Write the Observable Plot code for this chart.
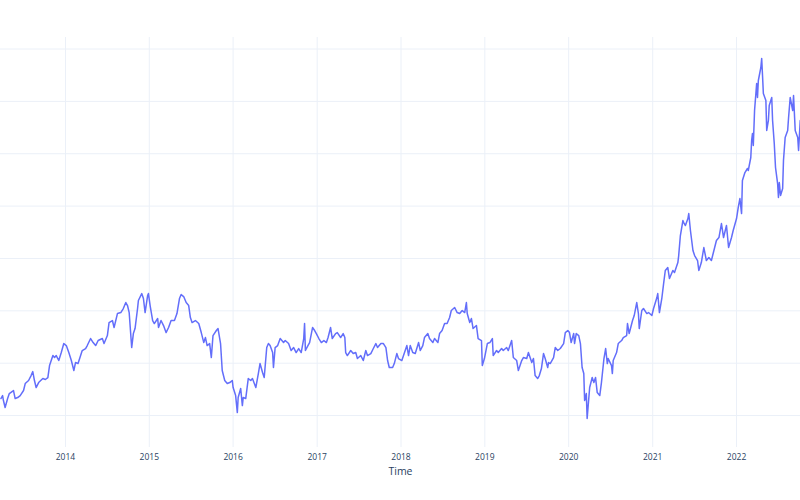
<!DOCTYPE html>
<html>
<head>
<meta charset="utf-8">
<script src="https://cdn.jsdelivr.net/npm/d3@7"></script>
<script src="https://cdn.jsdelivr.net/npm/@observablehq/plot@0.6"></script>
<style>
  html, body { margin: 0; padding: 0; background: #fff; }
  #chart { width: 800px; height: 500px; }
</style>
</head>
<body>
<div id="chart"></div>
<script>
// Time as decimal years (arbitrary units, y labels are not visible)
const times = [
2013.23,2013.25,2013.26,2013.28,2013.31,2013.33,2013.38,2013.40,2013.43,2013.46,2013.50,2013.52,2013.56,2013.59,2013.61,2013.63,2013.65,2013.68,2013.73,2013.76,
2013.79,2013.81,2013.85,2013.87,2013.89,2013.92,2013.95,2013.98,2014.01,2014.04,2014.07,2014.10,2014.12,2014.15,2014.20,2014.24,2014.26,2014.30,2014.33,2014.36,
2014.39,2014.44,2014.46,2014.50,2014.52,2014.56,2014.58,2014.62,2014.66,2014.69,2014.72,2014.74,2014.76,2014.79,2014.81,2014.83,2014.86,2014.87,2014.91,2014.93,
2014.95,2014.98,2014.99,2015.01,2015.04,2015.06,2015.10,2015.11,2015.14,2015.17,2015.20,2015.23,2015.26,2015.30,2015.33,2015.36,2015.38,2015.41,2015.44,2015.47,
2015.49,2015.51,2015.55,2015.59,2015.62,2015.65,2015.67,2015.69,2015.72,2015.74,2015.76,2015.80,2015.82,2015.85,2015.87,2015.90,2015.93,2015.96,2015.99,2016.00,
2016.03,2016.05,2016.06,2016.09,2016.11,2016.12,2016.15,2016.18,2016.21,2016.23,2016.27,2016.30,2016.32,2016.35,2016.37,2016.40,2016.42,2016.44,2016.47,2016.48,
2016.50,2016.53,2016.56,2016.60,2016.62,2016.66,2016.69,2016.72,2016.75,2016.78,2016.81,2016.84,2016.85,2016.86,2016.89,2016.91,2016.945,2016.97,2016.99,2017.02,
2017.05,2017.08,2017.11,2017.13,2017.16,2017.18,2017.22,2017.24,2017.28,2017.31,2017.33,2017.34,2017.36,2017.40,2017.43,2017.46,2017.48,2017.52,2017.55,2017.58,
2017.60,2017.64,2017.67,2017.70,2017.72,2017.76,2017.79,2017.82,2017.84,2017.86,2017.90,2017.92,2017.95,2017.97,2018.01,2018.03,2018.07,2018.09,2018.11,2018.14,
2018.17,2018.21,2018.23,2018.26,2018.28,2018.32,2018.34,2018.38,2018.40,2018.44,2018.46,2018.49,2018.52,2018.55,2018.58,2018.60,2018.64,2018.67,2018.70,2018.73,
2018.76,2018.78,2018.79,2018.82,2018.84,2018.86,2018.90,2018.92,2018.96,2018.97,2018.995,2019.03,2019.06,2019.09,2019.10,2019.14,2019.16,2019.20,2019.22,2019.26,
2019.28,2019.32,2019.34,2019.38,2019.40,2019.44,2019.46,2019.50,2019.52,2019.56,2019.58,2019.60,2019.63,2019.65,2019.675,2019.70,2019.72,2019.75,2019.76,2019.78,
2019.82,2019.84,2019.87,2019.90,2019.94,2019.96,2019.99,2020.01,2020.03,2020.06,2020.07,2020.09,2020.12,2020.14,2020.16,2020.18,2020.19,2020.21,2020.22,2020.25,
2020.28,2020.30,2020.32,2020.34,2020.37,2020.39,2020.42,2020.44,2020.46,2020.47,2020.51,2020.52,2020.53,2020.57,2020.59,2020.63,2020.65,2020.69,2020.70,2020.72,
2020.76,2020.78,2020.81,2020.83,2020.84,2020.87,2020.89,2020.93,2020.95,2020.99,2021.01,2021.05,2021.06,2021.08,2021.11,2021.13,2021.15,2021.18,2021.20,2021.24,
2021.26,2021.30,2021.31,2021.33,2021.36,2021.37,2021.39,2021.42,2021.43,2021.45,2021.48,2021.50,2021.535,2021.55,2021.58,2021.61,2021.64,2021.67,2021.70,2021.73,
2021.76,2021.79,2021.82,2021.845,2021.88,2021.905,2021.94,2021.96,2022.00,2022.02,2022.04,2022.06,2022.07,2022.10,2022.13,2022.14,2022.17,2022.18,2022.19,2022.20,
2022.215,2022.24,2022.25,2022.26,2022.29,2022.30,2022.31,2022.32,2022.35,2022.36,2022.38,2022.39,2022.42,2022.43,2022.45,2022.465,2022.49,2022.50,2022.51,2022.525,
2022.55,2022.56,2022.58,2022.61,2022.62,2022.64,2022.67,2022.68,2022.70,2022.73,2022.74,2022.76
];
const values = [
23.25,23.82,22.87,21.53,23.25,24.20,24.78,23.25,23.44,23.82,24.78,26.11,26.69,27.64,28.40,26.69,25.35,26.30,27.07,26.88,
27.26,29.55,31.46,31.08,31.46,30.51,32.03,33.75,33.37,32.03,30.51,28.60,30.12,29.93,32.42,32.80,33.37,34.71,33.94,33.37,
34.33,34.71,33.75,35.28,37.76,38.15,36.81,39.48,39.67,40.44,41.58,41.01,39.67,32.99,35.66,36.62,40.44,41.97,43.30,42.35,
39.67,42.92,43.30,41.01,38.15,37.57,38.53,36.81,38.15,37.19,35.85,36.81,38.15,38.15,39.48,42.35,43.11,42.73,41.58,41.01,
38.72,37.76,38.15,37.57,35.85,33.94,34.90,33.37,33.75,31.08,35.28,36.24,36.62,33.75,28.60,26.69,26.11,26.30,26.69,25.35,
23.82,20.57,23.44,25.16,21.91,23.44,23.25,27.07,26.69,27.07,25.35,28.02,29.93,28.21,27.26,32.99,33.75,33.37,32.03,29.17,
32.99,33.37,34.71,33.94,34.33,33.75,32.42,32.99,32.03,32.80,32.03,34.71,37.57,32.42,33.37,33.94,36.81,36.24,35.66,34.71,
33.94,34.33,33.94,34.90,36.81,34.71,35.66,35.85,34.90,35.66,34.90,32.03,31.46,32.42,31.84,32.03,30.89,31.46,30.51,32.42,
31.46,31.84,32.80,33.75,32.99,33.75,33.75,32.99,30.51,29.17,29.17,29.93,31.84,30.89,30.51,31.46,33.37,31.46,33.37,32.03,
31.84,33.94,32.42,33.37,34.90,35.66,34.71,33.94,34.71,33.94,35.66,36.24,37.57,37.57,38.72,40.06,40.63,39.67,39.48,40.06,
39.67,41.58,39.48,37.76,38.53,36.62,37.19,34.71,34.33,29.55,30.89,33.75,33.94,34.71,31.46,32.42,32.03,32.80,32.42,32.99,
32.42,34.33,31.08,30.51,28.60,30.51,31.08,30.89,32.03,30.12,30.89,27.64,27.07,27.64,28.98,31.84,30.89,29.17,30.12,29.93,
31.08,32.99,32.42,32.80,33.75,35.85,36.24,35.85,33.94,35.66,33.75,35.66,35.28,33.75,29.17,28.02,22.87,24.20,19.43,25.35,
27.26,26.30,27.26,24.39,23.82,26.30,30.89,32.80,29.93,30.89,29.55,28.02,30.51,32.03,33.75,34.33,34.90,35.28,37.57,35.66,
38.15,39.10,41.58,39.48,36.62,40.06,40.44,39.48,39.67,39.10,40.44,42.54,43.30,39.67,42.54,45.21,47.70,48.27,46.17,47.70,
47.31,49.22,50.56,54.38,57.25,56.86,56.29,57.63,58.58,55.34,51.52,50.56,49.61,47.70,49.22,52.09,49.61,50.18,49.61,51.52,
53.43,54.00,56.67,54.00,56.29,52.09,54.00,55.34,57.63,59.73,61.45,58.58,64.89,66.41,67.18,66.80,69.28,72.53,73.86,71.57,
78.26,83.41,80.74,83.99,86.47,88.19,84.94,81.50,80.17,74.44,76.35,79.21,80.74,76.35,71.95,67.37,64.31,61.64,64.50,62.02,
63.36,68.71,73.10,74.44,76.73,80.74,78.26,81.12,74.44,73.10,70.62,76.35
];
const tickYears = [2014, 2015, 2016, 2017, 2018, 2019, 2020, 2021, 2022];
const gridValues = [20, 30, 40, 50, 60, 70, 80, 90];
const timeRange = [2013.225, 2022.763];
const valueRange = [13.9, 92.2];

function decYear(t) {
  const y = Math.floor(t);
  const s = Date.UTC(y, 0, 1), e = Date.UTC(y + 1, 0, 1);
  return new Date(s + (t - y) * (e - s));
}

const rows = times.map((t, i) => ({Time: decYear(t), value: values[i]}));
const tickDates = tickYears.map(y => new Date(Date.UTC(y, 0, 1)));

const chart = Plot.plot({
  width: 800,
  height: 500,
  marginTop: 37,
  marginBottom: 53,
  marginLeft: 0,
  marginRight: 0,
  style: {fontFamily: "'Open Sans', sans-serif", background: "#fff"},
  x: {type: "utc", domain: timeRange.map(decYear)},
  y: {domain: valueRange, axis: null},
  marks: [
    Plot.gridX(tickDates, {stroke: "#EBF0F8", strokeOpacity: 1, strokeWidth: 1}),
    Plot.gridY(gridValues, {stroke: "#EBF0F8", strokeOpacity: 1, strokeWidth: 1}),
    Plot.axisX(tickDates, {tickSize: 0, tickPadding: 6, tickFormat: d3.utcFormat("%Y"), fontSize: 8.5, fill: "#2a3f5f", label: null}),
    Plot.line(rows, {x: "Time", y: "value", stroke: "#636efa", strokeWidth: 1.5}),
    Plot.text(["Time"], {frameAnchor: "bottom", dy: 27, fontSize: 10.5, fill: "#2a3f5f"})
  ]
});
document.getElementById("chart").appendChild(chart);
</script>
</body>
</html>
